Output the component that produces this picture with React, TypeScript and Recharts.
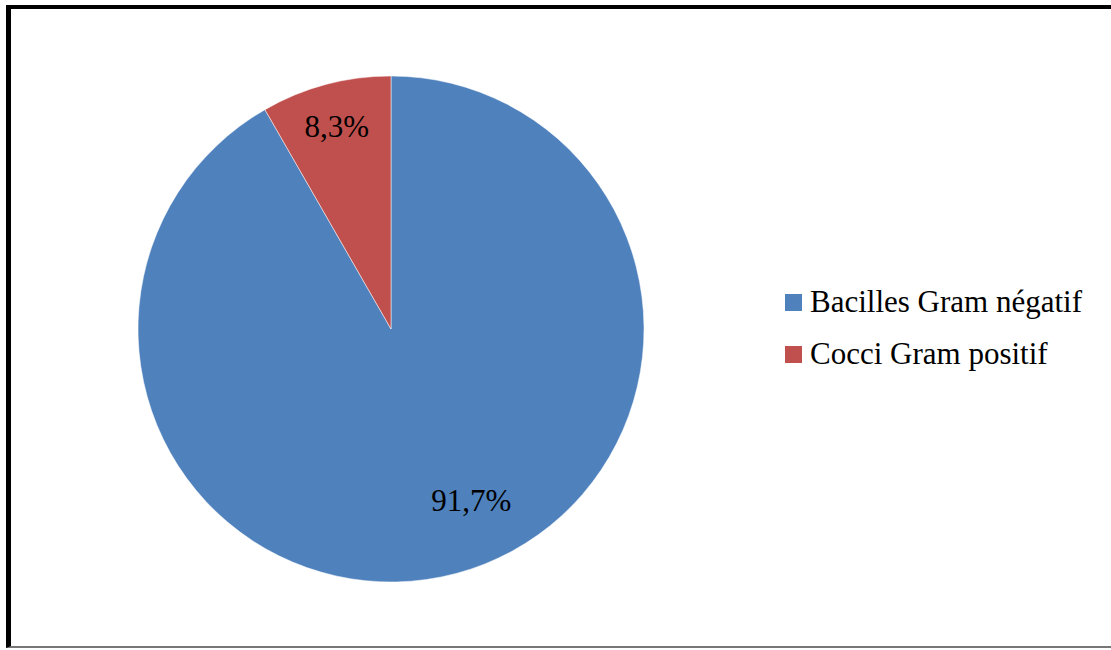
import { PieChart, Pie, Cell, Legend } from 'recharts';

const categories = ['Bacilles Gram négatif', 'Cocci Gram positif'];
const percentages = [91.7, 8.3];
const colors = ['#4F81BD', '#C0504D'];

const data = categories.map((name, i) => ({ name, value: percentages[i] }));

const RADIAN = Math.PI / 180;
const FONT = '"Liberation Serif", "Times New Roman", serif';

// Excel "best fit" placement: the big slice's label sits lower-right, not at its mid angle
const labelPlacement = [
  { angle: -65, factor: 0.75 },
  { angle: null as number | null, factor: 0.83 },
];

const renderLabel = (props: any) => {
  const { cx, cy, midAngle, outerRadius, index, value } = props;
  const p = labelPlacement[index];
  const a = (p.angle ?? midAngle) * RADIAN;
  const r = outerRadius * p.factor;
  const x = cx + r * Math.cos(a);
  const y = cy - r * Math.sin(a);
  return (
    <text x={x} y={y} textAnchor="middle" dominantBaseline="central" fill="#000" fontSize={31} fontFamily={FONT}>
      {String(value).replace('.', ',')}%
    </text>
  );
};

const renderLegend = () => (
  <div style={{ fontFamily: FONT, fontSize: 31, color: '#000' }}>
    {data.map((d, i) => (
      <div key={d.name} style={{ display: 'flex', alignItems: 'center', height: 52 }}>
        <span style={{ display: 'inline-block', width: 17, height: 17, background: colors[i], marginRight: 8 }} />
        <span>{d.name}</span>
      </div>
    ))}
  </div>
);

export default function App() {
  return (
    <div style={{ position: 'absolute', left: 0, top: 0, width: 1111, height: 650, background: '#fff', overflow: 'hidden' }}>
      <div
        style={{
          position: 'absolute',
          left: 6,
          top: 5,
          width: 1200,
          height: 643,
          borderLeft: '5px solid #000',
          borderTop: '4px solid #000',
          borderBottom: '2px solid #777',
          boxSizing: 'border-box',
        }}
      />
      <div style={{ position: 'absolute', left: 0, top: 0 }}>
        <PieChart width={1111} height={650}>
          <Pie
            data={data}
            dataKey="value"
            nameKey="name"
            cx={386}
            cy={324}
            outerRadius={253}
            startAngle={90}
            endAngle={-270}
            stroke="#fff"
            strokeWidth={0.5}
            label={renderLabel}
            labelLine={false}
            isAnimationActive={false}
          >
            {data.map((d, i) => (
              <Cell key={d.name} fill={colors[i]} />
            ))}
          </Pie>
          <Legend
            content={renderLegend}
            layout="vertical"
            wrapperStyle={{ position: 'absolute', left: 785, top: 276, width: 326 }}
          />
        </PieChart>
      </div>
    </div>
  );
}
